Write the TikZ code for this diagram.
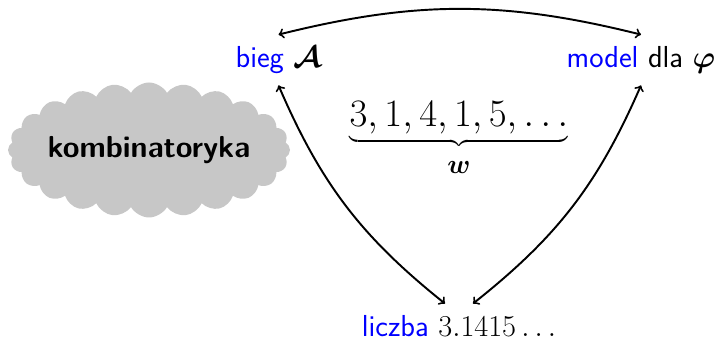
\documentclass[tikz,border=0pt]{standalone}
\usepackage{bm}
\usepackage{graphicx}
\usepackage{xcolor}
\usepackage{tikz}
\usetikzlibrary{shapes.symbols}
\renewcommand{\familydefault}{\sfdefault}

\begin{document}
\begin{tikzpicture}[
        label/.style={font=\LARGE, anchor=base, inner sep=0pt, text height=18.8pt, text depth=9.7pt},
        bubble/.style={cloud, cloud puffs=24, cloud puff arc=120, aspect=2.5, fill=black!22, minimum width=5.64cm, minimum height=2.7cm, inner sep=-4pt, font=\LARGE\bfseries},
        link/.style={<->, line width=1.1pt}]
    \useasboundingbox (0,0) rectangle (14.34,6.82);

    \node [label] (bieg) at (5.57,5.46) {\textcolor{blue}{bieg} $\bm{\mathcal{A}}$};
    \node [label] (model) at (12.82,5.46) {\textcolor{blue}{model} dla $\bm{\varphi}$};
    \node [label] (liczba) at (9.18,0.08) {\textcolor{blue}{liczba} $3.1415\ldots$};
    \node [font=\huge, anchor=base] (ciag) at (9.18,4.28)
        {\scalebox{1.065}{$\underbrace{3,1,4,1,5,\ldots}_{\mbox{\rule{0pt}{12pt}\Large$\bm{w}$}}$}};
    \node [bubble] (komb) at (2.98,3.82) {kombinatoryka};

    \draw [link] (bieg.north) to[bend left=14] (model.north);
    \draw [link] (bieg.south) to[bend right=14] ([xshift=-0.28cm]liczba.north);
    \draw [link] (model.south) to[bend left=14] ([xshift=0.28cm]liczba.north);
\end{tikzpicture}
\end{document}
